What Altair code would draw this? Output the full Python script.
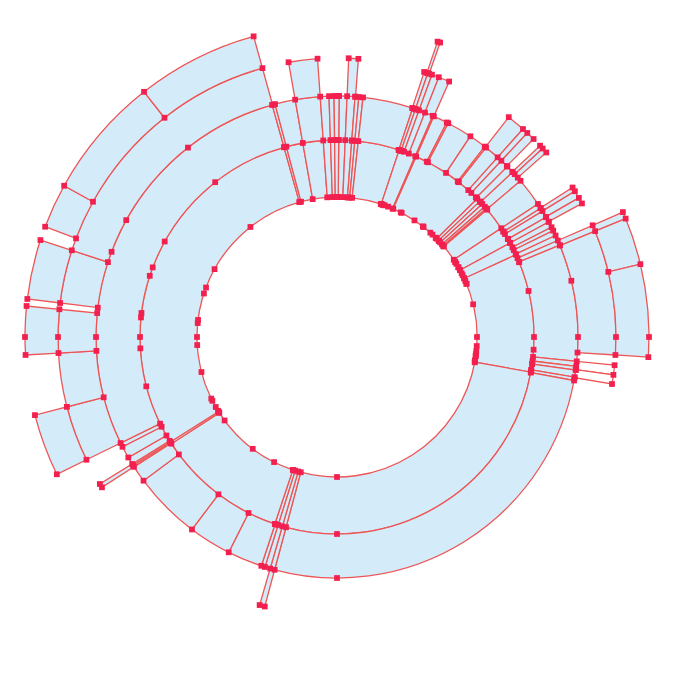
import math
import altair as alt
import pandas as pd

radii = [140, 197, 241, 279, 312]

ring1_edges = [0.5, 2.4, 4.3, 5.2, 6.2, 18.4, 23.4, 23.7, 45.4, 46.5, 47.5, 48.6, 49.3, 49.7,
               56.5, 61.5, 65.3, 100.3, 195, 196.1, 197.4, 198.4, 237.2, 237.8,
               344.4, 345.1, 350, 356, 358.1, 359.3]
ring2_edges = [0.5, 2.4, 4.3, 5.2, 6.2, 18.3, 19, 19.9, 21.4, 23.4, 23.7, 27.1, 27.5, 33.6,
               37.8, 38.2, 41.8, 43, 45, 46.8, 49.6, 56.5, 57.7, 58.5, 60.2, 61.5, 62.9,
               63.8, 65.1, 66.4, 67.6, 95.8, 97, 97.9, 99.6, 100.4, 195, 196.1, 197.4, 198.3,
               206.7, 217, 233.4, 237.4, 237.8, 238.2, 240, 242.9, 243.9,
               344.4, 345.1, 350, 356, 358.1, 359.3]
ring3_starts = [2.4, 18.2, 19, 19.9, 21.4, 38, 41.8, 43, 46.7, 47.5, 57.6, 58.5, 60.1, 66.4, 67.7,
                95.8, 97.8, 195, 237.4, 243.9, 255.5, 266.7, 277, 288.1, 350]
ring3_ends = [4.4, 19, 19.9, 21.4, 23.7, 41.8, 43, 44.8, 47.5, 48.6, 58.5, 60.1, 61.4, 67.7, 93.7,
              97.8, 99.7, 196.1, 238.2, 255.5, 266.7, 275.7, 288.1, 344.5, 356]
ring4_starts = [18.8, 66.4, 67.7, 76.5, 243.9, 266.7, 277, 290.7, 299, 321.8]
ring4_ends = [19.3, 67.7, 76.5, 93.7, 255.5, 275.7, 288.1, 299, 321.8, 344.5]
unfilled_starts = [95.8, 97.8]
quadrants = [0, 90, 180, 270]

fill_color = "#d4ebfa"
line_color = "#ee5555"
point_color = "#f2204f"


def closed(edges):
    return list(zip(edges, edges[1:] + [edges[0] + 360]))


rings = [closed(ring1_edges), closed(ring2_edges),
         list(zip(ring3_starts, ring3_ends)), list(zip(ring4_starts, ring4_ends))]

arc_rows, point_rows = [], []
for k, segs in enumerate(rings):
    for a0, a1 in segs:
        white = k == 2 and a0 in unfilled_starts
        arc_rows.append({"a0": a0, "a1": a1, "r0": radii[k], "r1": radii[k + 1],
                         "paint": "#ffffff" if white else fill_color})
        angles = {a0, a1}
        for q in quadrants + [360]:
            if a0 < q < a1:
                angles.add(q)
        for a in angles:
            for r in radii[: k + 2]:
                point_rows.append({"x": r * math.sin(math.radians(a)),
                                   "y": r * math.cos(math.radians(a))})

arcs_df = pd.DataFrame(arc_rows)
points_df = pd.DataFrame(point_rows).drop_duplicates()

half = 329
arcs = alt.Chart(arcs_df).mark_arc(stroke=line_color, strokeWidth=1.3).encode(
    theta=alt.Theta("a0:Q", scale=alt.Scale(domain=[0, 360]), stack=None),
    theta2="a1:Q",
    radius=alt.Radius("r0:Q", scale=alt.Scale(type="linear", domain=[0, half], range=[0, half])),
    radius2="r1:Q",
    fill=alt.Fill("paint:N", scale=None),
)
points = alt.Chart(points_df).mark_square(size=33, color=point_color, opacity=1).encode(
    x=alt.X("x:Q", scale=alt.Scale(domain=[-half, half]), axis=None),
    y=alt.Y("y:Q", scale=alt.Scale(domain=[-half, half]), axis=None),
)

chart = alt.layer(arcs, points).properties(
    width=2 * half, height=2 * half, padding=0,
    autosize=alt.AutoSizeParams(type="none"), background="white",
).configure_view(stroke=None)

chart.save("out.html", embed_options={"renderer": "svg", "actions": False})
